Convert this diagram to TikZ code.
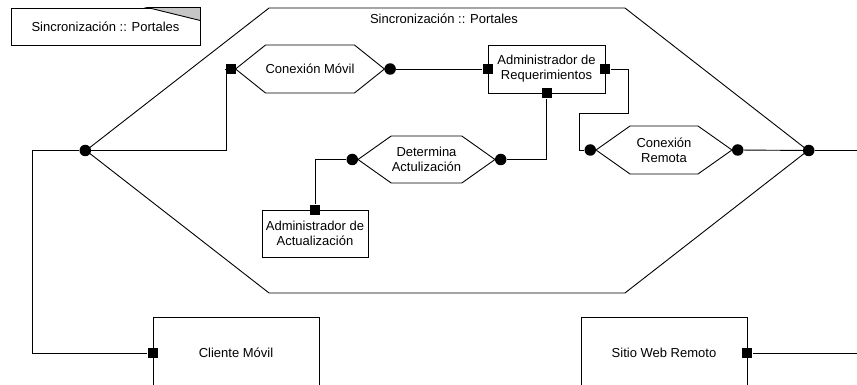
\documentclass[tikz,border=0pt]{standalone}
\usepackage{fontspec}
\setmainfont{Liberation Sans}
\usetikzlibrary{shapes.symbols, positioning}
\tikzstyle{comp} = [rectangle, draw=black, line width=0.9pt, align=center, inner sep=2pt, font=\fontsize{13}{15}\selectfont]
\tikzstyle{conn} = [signal, signal to=east and west, draw=black, line width=0.9pt, align=center, inner sep=0pt, minimum height=48pt, font=\fontsize{13}{15}\selectfont]
\tikzstyle{port} = [rectangle, fill=black, minimum size=10pt, inner sep=0pt]
\tikzstyle{ball} = [circle, fill=black, minimum size=11.5pt, inner sep=0pt]
\tikzstyle{wire} = [line width=0.9pt]

\begin{document}
\begin{tikzpicture}[x=1pt, y=-1pt]
        \useasboundingbox (0,0) rectangle (857,385);
        \clip (0,0) rectangle (857,385);

        \node (frame) [conn, signal pointer angle=75.8, minimum width=722pt, minimum height=285pt] at (447,150.5) {};
        \node (frametitle) [font=\fontsize{13}{15}\selectfont] at (444,19) {Sincronización :: Portales};
        \node (title) [comp, minimum width=189pt, minimum height=37pt] at (105.5,26.5) {Sincronización :: Portales};
        \filldraw [wire, fill=gray!45] (title.north east) -- ++(-53,0) -- ++(53,13) -- cycle;

        \node (cm) [conn, signal pointer angle=77.3, minimum width=134pt] at (310,69) {Conexión Móvil};
        \node (ar) [comp, minimum width=117pt, minimum height=48pt] at (546.5,69) {Administrador de\\Requerimientos};
        \node (da) [conn, signal pointer angle=70.6, minimum width=137pt, minimum height=47pt] at (426.5,159.5) {Determina\\Actulización};
        \node (aa) [comp, minimum width=106pt, minimum height=47pt] at (315,233.5) {Administrador de\\Actualización};
        \node (cr) [conn, signal pointer angle=70.4, minimum width=136pt] at (664,150) {Conexión\\Remota};
        \node (cli) [comp, minimum width=166pt, minimum height=72pt] at (236,353) {Cliente Móvil};
        \node (sit) [comp, minimum width=166pt, minimum height=72pt] at (664,353) {Sitio Web Remoto};

        \node (fW) [ball] at (frame.west) {};
        \node (fE) [ball] at (frame.east) {};
        \node (cmL) [port, left=-1pt of cm.west] {};
        \node (cmR) [ball, right=-1pt of cm.east] {};
        \node (arL) [port] at (ar.west) {};
        \node (arR) [port] at (ar.east) {};
        \node (arB) [port] at (ar.south) {};
        \node (daL) [ball, left=-1pt of da.west] {};
        \node (daR) [ball, right=-1pt of da.east] {};
        \node (aaT) [port] at (aa.north) {};
        \node (crL) [ball, left=-1pt of cr.west] {};
        \node (crR) [ball, right=-1pt of cr.east] {};
        \node (cliL) [port] at (cli.west) {};
        \node (sitR) [port] at (sit.east) {};

        \draw [wire] (fW) -- ++(141,0) |- (cmL);
        \draw [wire] (cmR) -- (arL);
        \draw [wire] (arR) -- ++(23,0) -- ++(0,44) -- ++(-49,0) |- (crL);
        \draw [wire] (daR) -| (arB);
        \draw [wire] (daL) -| (aaT);
        \draw [wire] (crR) -- (fE) -- ++(50,0);
        \draw [wire] (fW) -- ++(-53,0) |- (cliL);
        \draw [wire] (sitR) -- ++(112,0);

      \end{tikzpicture}
\end{document}
